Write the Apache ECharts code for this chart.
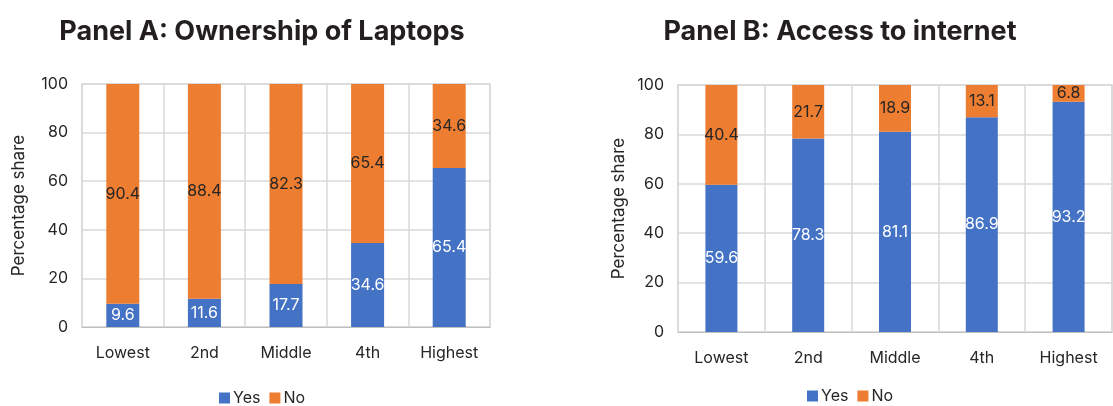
<!DOCTYPE html>
<html>
<head>
<meta charset="utf-8">
<script src="https://cdn.jsdelivr.net/npm/echarts@6/dist/echarts.min.js"></script>
<style>
  html, body { margin: 0; padding: 0; background: #fff; }
  #chart { width: 1113px; height: 406px; }
</style>
</head>
<body>
<div id="chart"></div>
<script>
var categories = ["Lowest", "2nd", "Middle", "4th", "Highest"]
var laptopYes = [9.6, 11.6, 17.7, 34.6, 65.4]
var laptopNo = [90.4, 88.4, 82.3, 65.4, 34.6]
var internetYes = [59.6, 78.3, 81.1, 86.9, 93.2]
var internetNo = [40.4, 21.7, 18.9, 13.1, 6.8]
var yTicks = [0, 20, 40, 60, 80, 100]

var font = "Inter"
var blue = "#4472C4"
var orange = "#ED7D31"
var grid = "#d9d9d9"

var myChart = echarts.init(document.getElementById("chart"))

function xAxis(i) {
  return {
    type: "category",
    gridIndex: i,
    data: categories,
    axisTick: { show: false },
    axisLine: { lineStyle: { color: "#bfbfbf" } },
    axisLabel: { color: "#262626", fontSize: 16, fontFamily: font, margin: 18 },
    splitLine: { show: true, lineStyle: { color: grid, width: 1.5 } }
  }
}
function yAxis(i, gap) {
  return {
    type: "value",
    gridIndex: i,
    min: yTicks[0],
    max: yTicks[yTicks.length - 1],
    interval: 20,
    name: "Percentage share",
    nameLocation: "middle",
    nameGap: gap,
    nameTextStyle: { color: "#262626", fontSize: 17, fontFamily: font },
    axisLabel: { color: "#262626", fontSize: 16, fontFamily: font, margin: 14 },
    axisLine: { show: false },
    axisTick: { show: false },
    splitLine: { lineStyle: { color: grid, width: 1.5 } }
  }
}
function bar(name, data, i, color, textColor, w) {
  return {
    name: name,
    type: "bar",
    stack: "s" + i,
    xAxisIndex: i,
    yAxisIndex: i,
    data: data,
    barWidth: w,
    itemStyle: { color: color },
    label: {
      show: true,
      position: "inside",
      color: textColor,
      fontSize: 16,
      fontFamily: font
    }
  }
}
function legend(x, y) {
  return {
    data: ["Yes", "No"], left: x, top: y, padding: 0,
    itemWidth: 11, itemHeight: 11, itemGap: 9,
    icon: "rect",
    textStyle: { fontSize: 16, color: "#262626", fontFamily: font, padding: [0, 0, 0, -2] }
  }
}

var option = {
  backgroundColor: "#fff",
  animation: false,
  title: [
    {
      text: "Panel A: Ownership of Laptops",
      left: 257, top: 13, textAlign: "center",
      textStyle: { fontSize: 27, fontWeight: "bold", color: "#231f20", fontFamily: font }
    },
    {
      text: "Panel B: Access to internet",
      left: 835, top: 13, textAlign: "center",
      textStyle: { fontSize: 27, fontWeight: "bold", color: "#231f20", fontFamily: font }
    }
  ],
  legend: [legend(219, 390), legend(807, 388)],
  grid: [
    { left: 82, top: 84, width: 408, height: 243, show: true, borderColor: grid, borderWidth: 1.5 },
    { left: 678, top: 85, width: 434, height: 247, show: true, borderColor: grid, borderWidth: 1.5 }
  ],
  xAxis: [xAxis(0), xAxis(1)],
  yAxis: [yAxis(0, 55), yAxis(1, 51)],
  series: [
    bar("Yes", laptopYes, 0, blue, "#fff", 33),
    bar("No", laptopNo, 0, orange, "#262626", 33),
    bar("Yes", internetYes, 1, blue, "#fff", 32),
    bar("No", internetNo, 1, orange, "#262626", 32)
  ]
}
myChart.setOption(option)
</script>
</body>
</html>
